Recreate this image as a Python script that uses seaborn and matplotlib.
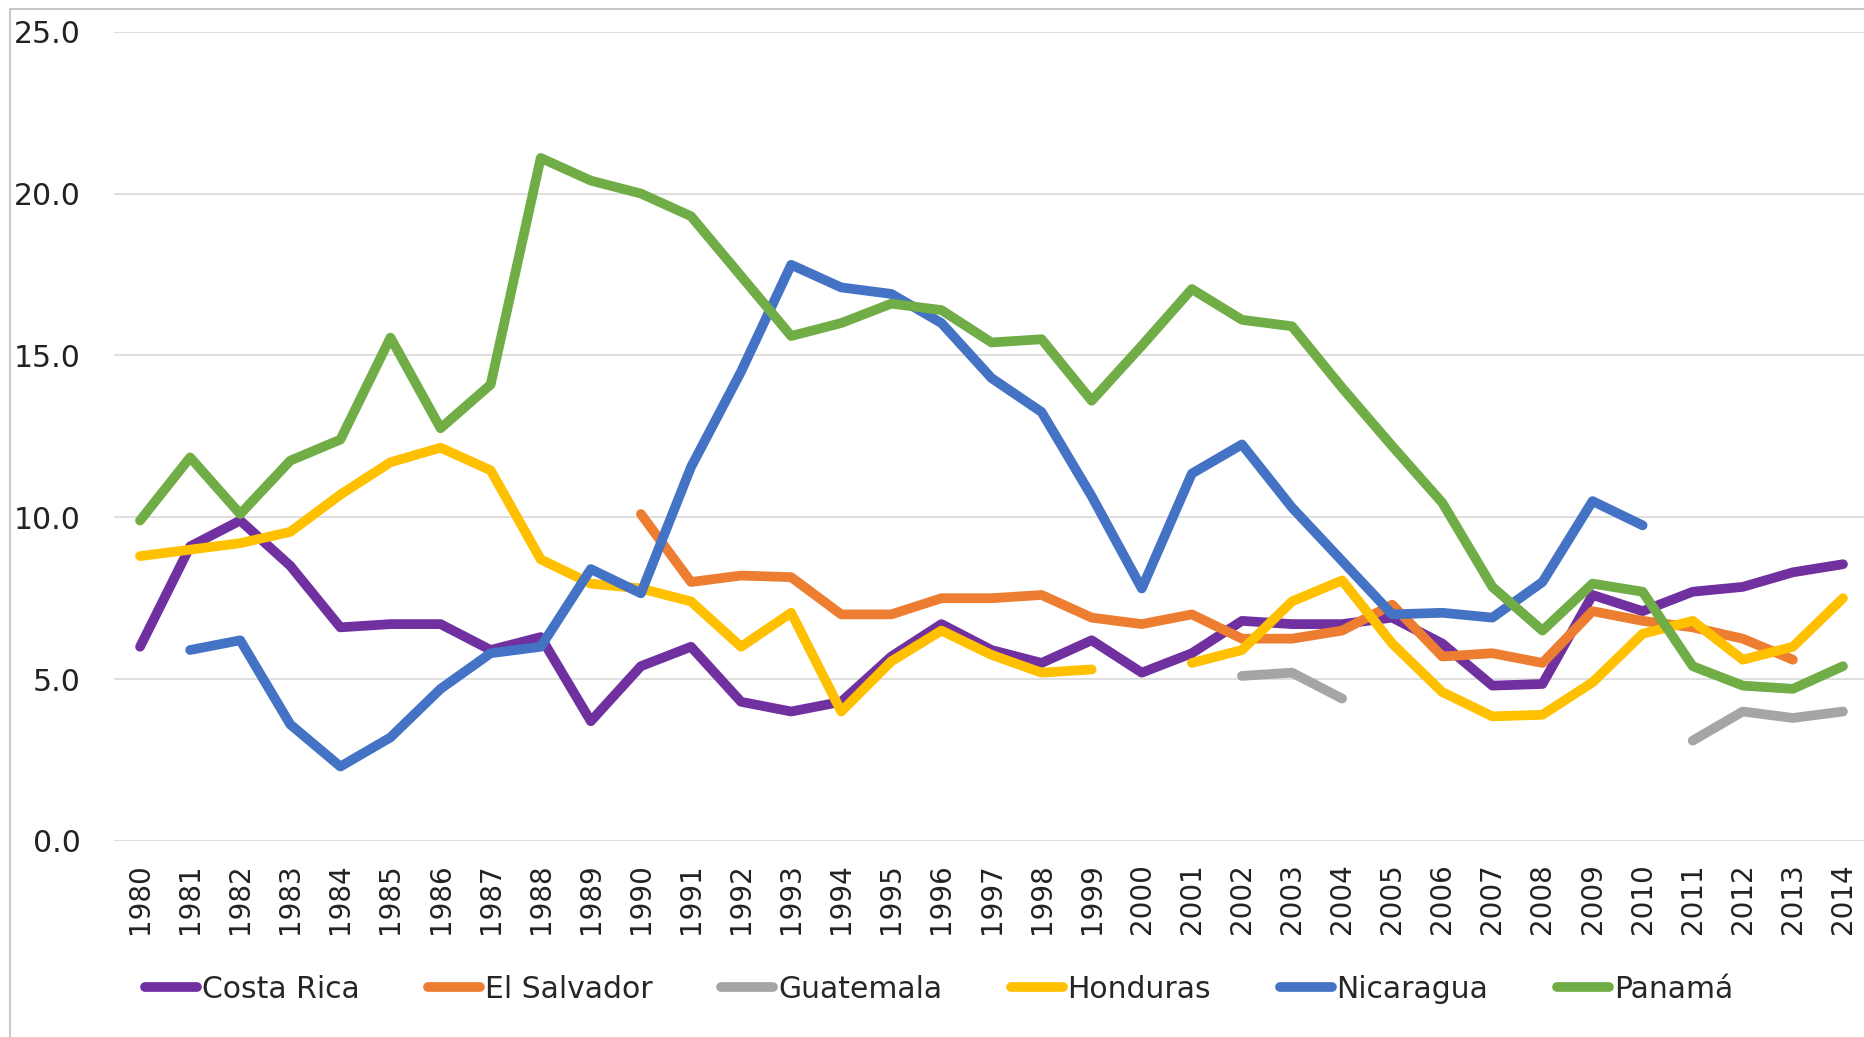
import numpy as np
import pandas as pd
import matplotlib
matplotlib.use("Agg")
import matplotlib.pyplot as plt
import seaborn as sns
from matplotlib.patches import Rectangle

# data (NaN = no value that year)
years = list(range(1980, 2015))
nan = np.nan

costa_rica = [6.0, 9.1, 9.9, 8.5, 6.6, 6.7, 6.7, 5.9, 6.3, 3.7,
              5.4, 6.0, 4.3, 4.0, 4.3, 5.7, 6.7, 5.9, 5.5, 6.2,
              5.2, 5.8, 6.8, 6.7, 6.7, 6.9, 6.1, 4.8, 4.85, 7.6,
              7.1, 7.7, 7.85, 8.3, 8.55]
el_salvador = [nan, nan, nan, nan, nan, nan, nan, nan, nan, nan,
               10.1, 8.0, 8.2, 8.15, 7.0, 7.0, 7.5, 7.5, 7.6, 6.9,
               6.7, 7.0, 6.25, 6.25, 6.5, 7.3, 5.7, 5.8, 5.5, 7.1,
               6.8, 6.6, 6.25, 5.6, nan]
guatemala = [nan, nan, nan, nan, nan, nan, nan, nan, nan, nan,
             nan, nan, nan, nan, nan, nan, nan, nan, nan, nan,
             nan, nan, 5.1, 5.2, 4.4, nan, nan, nan, nan, nan,
             nan, 3.1, 4.0, 3.8, 4.0]
honduras = [8.8, 9.0, 9.2, 9.55, 10.7, 11.7, 12.15, 11.45, 8.7, 7.95,
            7.8, 7.4, 6.0, 7.05, 4.0, 5.55, 6.5, 5.75, 5.2, 5.3,
            nan, 5.5, 5.9, 7.4, 8.05, 6.1, 4.6, 3.85, 3.9, 4.9,
            6.4, 6.8, 5.6, 6.0, 7.5]
nicaragua = [nan, 5.9, 6.2, 3.6, 2.3, 3.2, 4.7, 5.8, 6.0, 8.4,
             7.65, 11.55, 14.5, 17.8, 17.1, 16.9, 16.0, 14.3, 13.25, 10.65,
             7.8, 11.35, 12.25, 10.3, 8.65, 7.0, 7.05, 6.9, 8.0, 10.5,
             9.75, nan, nan, nan, nan]
panama = [9.9, 11.85, 10.1, 11.75, 12.4, 15.55, 12.75, 14.1, 21.1, 20.4,
          20.0, 19.3, 17.45, 15.6, 16.0, 16.6, 16.4, 15.4, 15.5, 13.6,
          15.3, 17.05, 16.1, 15.9, 14.0, 12.2, 10.45, 7.85, 6.5, 7.95,
          7.7, 5.4, 4.8, 4.7, 5.4]

countries = ["Costa Rica", "El Salvador", "Guatemala", "Honduras", "Nicaragua", "Panamá"]
series = [costa_rica, el_salvador, guatemala, honduras, nicaragua, panama]
colours = ["#7030A0", "#ED7D31", "#A5A5A5", "#FFC000", "#4472C4", "#70AD47"]

# long table; each unbroken run of a country gets its own unit so gaps stay open
rows = []
for name, vals in zip(countries, series):
    seg = 0
    prev_ok = False
    for yr, v in zip(years, vals):
        if np.isnan(v):
            prev_ok = False
            continue
        if not prev_ok:
            seg += 1
        prev_ok = True
        rows.append({"year": yr, "value": v, "country": name, "seg": name + str(seg)})
df = pd.DataFrame(rows)

sns.set_theme(style="white")
plt.rcParams["font.family"] = ["DejaVu Sans"]

fig = plt.figure(figsize=(18.64, 10.37), dpi=100)
ax = fig.add_axes([114 / 1864, 1 - 841 / 1037, 1 - 114 / 1864, (841 - 31.7) / 1037])

sns.lineplot(data=df, x="year", y="value", hue="country", hue_order=countries,
             units="seg", estimator=None, palette=colours, linewidth=7,
             solid_capstyle="round", solid_joinstyle="round", ax=ax)

ax.set_xlim(1979.48, 2014.42)
ax.set_ylim(0, 25)
ax.set_xticks(years)
ax.set_xticklabels([str(y) for y in years], rotation=90, fontsize=20, color="#222222")
ax.set_yticks([0, 5, 10, 15, 20, 25])
ax.set_yticklabels(["%.1f" % t for t in [0, 5, 10, 15, 20, 25]], fontsize=21.5, color="#222222")
ax.tick_params(axis="x", length=0, pad=16)
ax.tick_params(axis="y", length=0, pad=24)
ax.set_xlabel("")
ax.set_ylabel("")
ax.yaxis.grid(True, color="#D9D9D9", linewidth=1.2)
ax.xaxis.grid(False)
ax.set_axisbelow(True)
for s in ax.spines.values():
    s.set_visible(False)

# legend under the chart, taken from the seaborn handles
handles, labels = ax.get_legend_handles_labels()
ax.get_legend().remove()
fig.legend(handles, labels, loc="center", bbox_to_anchor=(939 / 1864, 1 - 989 / 1037),
           ncol=6, frameon=False, fontsize=21.5, handlelength=1.75, handletextpad=0.15,
           columnspacing=2.3)

# chart area border (cropped at right and bottom)
fig.patches.append(Rectangle((10 / 1864, -0.05), 1.2, 1.05 - 9 / 1037,
                             transform=fig.transFigure, fill=False,
                             edgecolor="#BFBFBF", linewidth=1.2))

fig.savefig("out.png", dpi=100)
